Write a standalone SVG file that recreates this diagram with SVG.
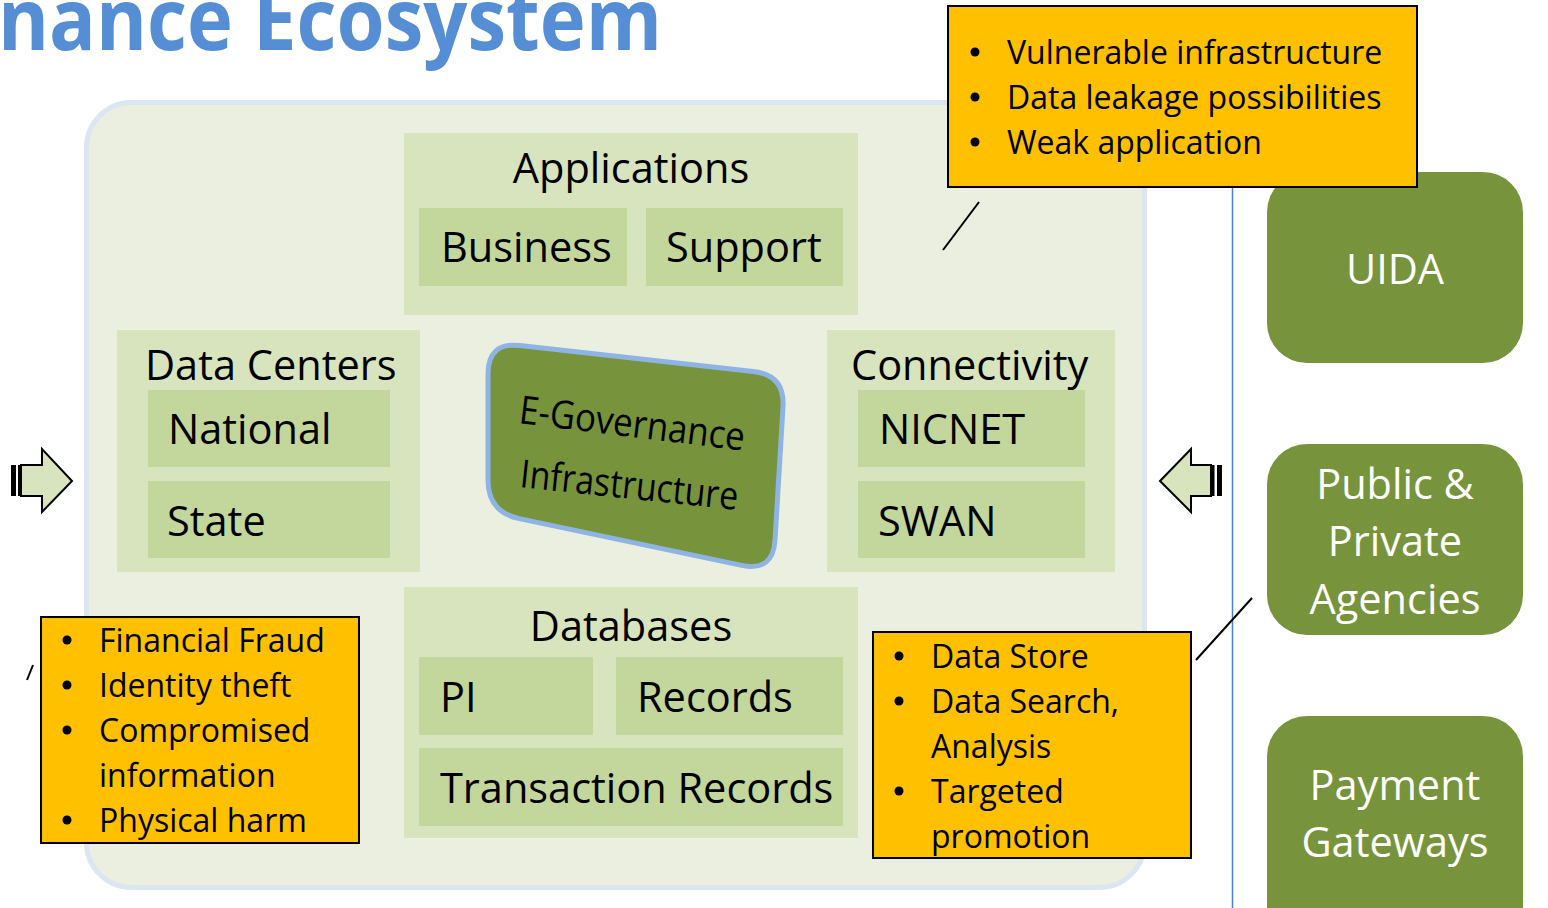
<svg xmlns="http://www.w3.org/2000/svg" width="1548" height="908" viewBox="0 0 1548 908">
  <style>
    text { font-family: "Open Sans", Lato, "Liberation Sans", sans-serif; }
    .title { font-size: 86px; font-weight: 700; fill: #558ed5; }
    .group { fill: #d7e4bd; }
    .item { fill: #c3d69b; }
    .lbl { font-size: 41.5px; fill: #000; }
    .note { fill: #ffc000; stroke: #000; stroke-width: 2; }
    .nt { font-size: 32px; fill: #000; }
    .actor { fill: #77933c; }
    .at { font-size: 41.5px; fill: #fff; text-anchor: middle; }
    .arrow { fill: #d7e4bd; stroke: #000; stroke-width: 2; stroke-linejoin: miter; }
    .link { stroke: #000; stroke-width: 2; fill: none; }
    .core { font-size: 39px; fill: #000; }
  </style>

  <rect width="1548" height="908" fill="#fff"/>

  <text class="title" x="-2" y="50" textLength="664" lengthAdjust="spacingAndGlyphs">nance Ecosystem</text>

  <!-- ecosystem container -->
  <rect id="ecosystem" x="86.5" y="102.5" width="1058" height="785" rx="45" fill="#ebefdf" stroke="#dce6f2" stroke-width="5"/>

  <!-- separator -->
  <line x1="1232.5" y1="187" x2="1232.5" y2="908" stroke="#4f81bd" stroke-width="1.5"/>

  <g id="applications">
    <rect class="group" x="404" y="133" width="454" height="182"/>
    <text class="lbl" x="631" y="183" text-anchor="middle">Applications</text>
    <rect class="item" x="419" y="208" width="208" height="78"/>
    <text class="lbl" x="441" y="262">Business</text>
    <rect class="item" x="646" y="208" width="197" height="78"/>
    <text class="lbl" x="666" y="262">Support</text>
  </g>

  <g id="data-centers">
    <rect class="group" x="117" y="330" width="303" height="242"/>
    <text class="lbl" x="145" y="380">Data Centers</text>
    <rect class="item" x="148" y="390" width="242" height="77"/>
    <text class="lbl" x="168" y="444">National</text>
    <rect class="item" x="148" y="481" width="242" height="77"/>
    <text class="lbl" x="167" y="536">State</text>
  </g>

  <g id="connectivity">
    <rect class="group" x="827" y="330" width="288" height="242"/>
    <text class="lbl" x="851" y="380">Connectivity</text>
    <rect class="item" x="858" y="390" width="227" height="77"/>
    <text class="lbl" x="879" y="444">NICNET</text>
    <rect class="item" x="858" y="481" width="227" height="77"/>
    <text class="lbl" x="878" y="536">SWAN</text>
  </g>

  <g id="databases">
    <rect class="group" x="404" y="587" width="454" height="251"/>
    <text class="lbl" x="631" y="641" text-anchor="middle">Databases</text>
    <rect class="item" x="419" y="657" width="174" height="78"/>
    <text class="lbl" x="440" y="712">PI</text>
    <rect class="item" x="616" y="657" width="227" height="78"/>
    <text class="lbl" x="637" y="712">Records</text>
    <rect class="item" x="419" y="748" width="424" height="78"/>
    <text class="lbl" x="440" y="803">Transaction Records</text>
  </g>

  <!-- central tilted card, drawn in perspective -->
  <g id="infrastructure">
    <path d="M519.8 345.5 L753.2 371.5 Q785 375 783 406.9 L775 540.1 Q773 572 741.7 565.4 L519.3 518.6 Q488 512 488 480 L488 374 Q488 342 519.8 345.5 Z" fill="#77933c" stroke="#8eb4e3" stroke-width="5" stroke-linejoin="round"/>
    <text class="core" transform="translate(518 423) rotate(7)" textLength="227" lengthAdjust="spacingAndGlyphs">E-Governance</text>
    <text class="core" transform="translate(519 487) rotate(6)" textLength="219" lengthAdjust="spacingAndGlyphs">Infrastructure</text>
  </g>

  <g id="uida">
    <rect class="actor" x="1267" y="172" width="256" height="191" rx="40"/>
    <text class="at" x="1395" y="284">UIDA</text>
  </g>

  <g id="agencies">
    <rect class="actor" x="1267" y="444" width="256" height="191" rx="40"/>
    <text class="at" x="1395" y="499">Public &amp;</text>
    <text class="at" x="1395" y="556">Private</text>
    <text class="at" x="1395" y="614">Agencies</text>
  </g>

  <g id="gateways">
    <rect class="actor" x="1267" y="716" width="256" height="230" rx="40"/>
    <text class="at" x="1395" y="800">Payment</text>
    <text class="at" x="1395" y="857">Gateways</text>
  </g>

  <g id="risks-apps">
    <rect class="note" x="948" y="6" width="469" height="181"/>
    <circle cx="975" cy="52" r="4.5"/><text class="nt" x="1007" y="64">Vulnerable infrastructure</text>
    <circle cx="975" cy="97" r="4.5"/><text class="nt" x="1007" y="109">Data leakage possibilities</text>
    <circle cx="975" cy="142" r="4.5"/><text class="nt" x="1007" y="154">Weak application</text>
  </g>

  <g id="risks-citizens">
    <rect class="note" x="41" y="617" width="318" height="226"/>
    <circle cx="67" cy="640" r="4.5"/><text class="nt" x="99" y="652">Financial Fraud</text>
    <circle cx="67" cy="685" r="4.5"/><text class="nt" x="99" y="697">Identity theft</text>
    <circle cx="67" cy="730" r="4.5"/><text class="nt" x="99" y="742">Compromised</text>
    <text class="nt" x="99" y="787">information</text>
    <circle cx="67" cy="820" r="4.5"/><text class="nt" x="99" y="832">Physical harm</text>
  </g>

  <g id="risks-data">
    <rect class="note" x="873" y="632" width="318" height="226"/>
    <circle cx="899" cy="656" r="4.5"/><text class="nt" x="931" y="668">Data Store</text>
    <circle cx="899" cy="701" r="4.5"/><text class="nt" x="931" y="713">Data Search,</text>
    <text class="nt" x="931" y="758">Analysis</text>
    <circle cx="899" cy="791" r="4.5"/><text class="nt" x="931" y="803">Targeted</text>
    <text class="nt" x="931" y="848">promotion</text>
  </g>

  <g id="connectors">
    <line class="link" x1="943" y1="250" x2="979" y2="202"/>
    <line class="link" x1="1196" y1="660" x2="1252" y2="598"/>
    <line class="link" x1="27" y1="680" x2="33" y2="665"/>
    <!-- inbound arrow, left -->
    <path class="arrow" d="M21 465 H42 V449 L72 481 L42 512 V496 H21 Z"/>
    <rect x="11" y="465" width="5" height="31" fill="#000"/>
    <rect x="18" y="465" width="4" height="31" fill="#000"/>
    <!-- inbound arrow, right -->
    <path class="arrow" d="M1211 465 H1191 V449 L1160 481 L1191 512 V496 H1211 Z"/>
    <rect x="1211" y="465" width="3.5" height="31" fill="#000"/>
    <rect x="1217" y="465" width="5" height="31" fill="#000"/>
  </g>
</svg>
